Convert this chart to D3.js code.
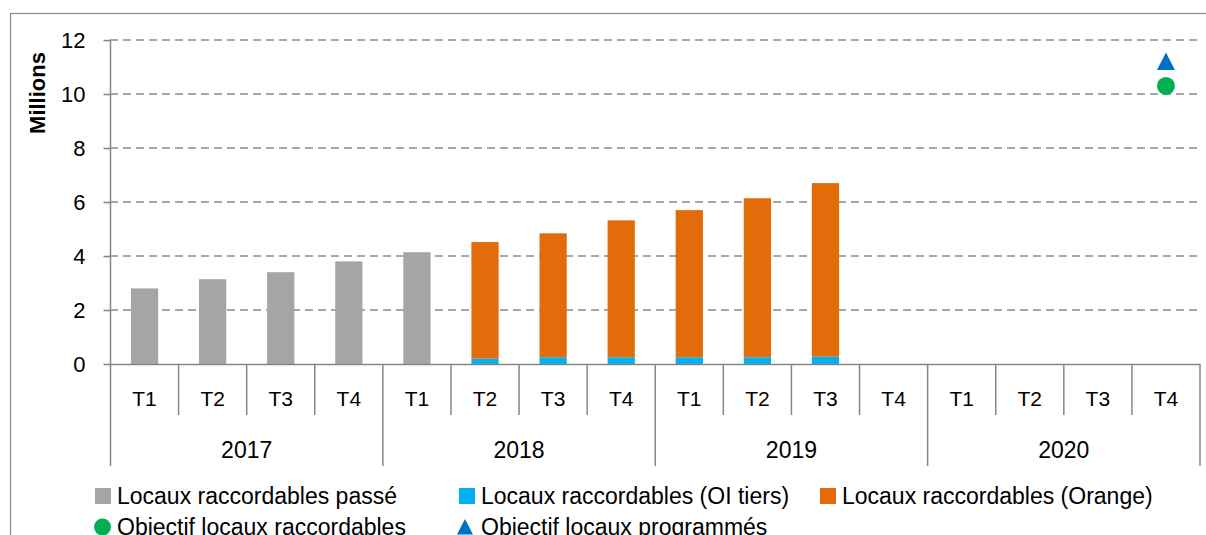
<!DOCTYPE html>
<html>
<head>
<meta charset="utf-8">
<script src="https://cdn.jsdelivr.net/npm/d3@7"></script>
<style>
  html, body { margin: 0; padding: 0; background: #fff; }
  svg { display: block; font-family: "Liberation Sans", Arial, sans-serif; }
</style>
</head>
<body>
<svg id="chart" width="1206" height="535"></svg>
<script>
// ---- Data ----
const years = ["2017", "2018", "2019", "2020"];
const quarters = ["T1", "T2", "T3", "T4"];
const passe   = [2.80, 3.14, 3.40, 3.80, 4.14, null, null, null, null, null, null, null, null, null, null, null];
const oiTiers = [null, null, null, null, null, 0.20, 0.25, 0.25, 0.25, 0.25, 0.27, null, null, null, null, null];
const orange  = [null, null, null, null, null, 4.32, 4.59, 5.07, 5.45, 5.89, 6.43, null, null, null, null, null];
const objectifRaccordables = [null, null, null, null, null, null, null, null, null, null, null, null, null, null, null, 10.3];
const objectifProgrammes   = [null, null, null, null, null, null, null, null, null, null, null, null, null, null, null, 11.2];
const yTicks = [0, 2, 4, 6, 8, 10, 12];
const legendLabels = [
  "Locaux raccordables passé",
  "Locaux raccordables (OI tiers)",
  "Locaux raccordables (Orange)",
  "Objectif locaux raccordables",
  "Objectif locaux programmés"
];

// ---- Styles ----
const C = {
  grey: "#A5A5A5", blue: "#00B0F0", orange: "#E36C0A",
  green: "#00B050", tri: "#0070C0", axis: "#868686", text: "#000"
};

const svg = d3.select("#chart");
const cats = [];
years.forEach(y => quarters.forEach(q => cats.push(y + "|" + q)));

const x = d3.scaleBand().domain(cats).range([110.5, 1200]).paddingInner(0).paddingOuter(0);
const y = d3.scaleLinear().domain([0, 12]).range([364, 40]);
const bw = x.bandwidth() * 0.4;

// outer border
svg.append("rect").attr("x", 10.5).attr("y", 13.5).attr("width", 1230).attr("height", 560)
  .attr("fill", "none").attr("stroke", "#8a8a8a").attr("stroke-width", 1.2);

// gridlines
svg.append("g").selectAll("line").data(yTicks.filter(d => d > 0)).join("line")
  .attr("x1", 110).attr("x2", 1200)
  .attr("y1", d => y(d)).attr("y2", d => y(d))
  .attr("stroke", "#8c8c8c").attr("stroke-width", 1.6).attr("stroke-dasharray", "8,5");

// y axis
const yAxis = d3.axisLeft(y).tickValues(yTicks).tickSize(7).tickPadding(18).tickFormat(d3.format("d"));
const gy = svg.append("g").attr("transform", "translate(110.5,0)").call(yAxis);
gy.select(".domain").attr("stroke", C.axis).attr("stroke-width", 1.5).attr("d", "M0,40V364");
gy.selectAll(".tick line").attr("stroke", C.axis).attr("stroke-width", 1.5);
gy.selectAll(".tick text").attr("font-size", 22).attr("fill", C.text)
  .attr("font-family", "'Liberation Sans', Arial, sans-serif");

// y title
svg.append("text").attr("transform", "translate(45,93) rotate(-90)")
  .attr("text-anchor", "middle").attr("font-size", 22).attr("font-weight", "bold")
  .attr("fill", C.text).text("Millions");

// bars
const gb = svg.append("g");
cats.forEach((c, i) => {
  const cx = x(c) + x.bandwidth() / 2;
  if (passe[i] != null) {
    gb.append("rect").attr("x", cx - bw / 2).attr("width", bw)
      .attr("y", y(passe[i])).attr("height", y(0) - y(passe[i])).attr("fill", C.grey);
  }
  let base = 0;
  if (oiTiers[i] != null) {
    gb.append("rect").attr("x", cx - bw / 2).attr("width", bw)
      .attr("y", y(oiTiers[i])).attr("height", y(0) - y(oiTiers[i])).attr("fill", C.blue);
    base = oiTiers[i];
  }
  if (orange[i] != null) {
    gb.append("rect").attr("x", cx - bw / 2).attr("width", bw)
      .attr("y", y(base + orange[i])).attr("height", y(base) - y(base + orange[i])).attr("fill", C.orange);
  }
});

// x axis line
svg.append("line").attr("x1", 110).attr("x2", 1200).attr("y1", 364.5).attr("y2", 364.5)
  .attr("stroke", C.axis).attr("stroke-width", 1.5);

// quarter separators and labels
const gx = svg.append("g");
cats.forEach((c, i) => {
  const left = x(c);
  const isYearStart = i % 4 === 0;
  gx.append("line").attr("x1", left).attr("x2", left).attr("y1", 364)
    .attr("y2", isYearStart ? 466 : 415).attr("stroke", C.axis).attr("stroke-width", 1.5);
  gx.append("text").attr("x", left + x.bandwidth() / 2).attr("y", 406)
    .attr("text-anchor", "middle").attr("font-size", 21).attr("fill", C.text)
    .text(c.split("|")[1]);
});
gx.append("line").attr("x1", 1200).attr("x2", 1200).attr("y1", 364).attr("y2", 466)
  .attr("stroke", C.axis).attr("stroke-width", 1.5);
years.forEach(yr => {
  const a = x(yr + "|T1"), b = x(yr + "|T4") + x.bandwidth();
  gx.append("text").attr("x", (a + b) / 2).attr("y", 458)
    .attr("text-anchor", "middle").attr("font-size", 23).attr("fill", C.text).text(yr);
});

// markers
const gm = svg.append("g");
cats.forEach((c, i) => {
  const cx = x(c) + x.bandwidth() / 2;
  if (objectifRaccordables[i] != null) {
    gm.append("circle").attr("cx", cx).attr("cy", y(objectifRaccordables[i])).attr("r", 9).attr("fill", C.green);
  }
  if (objectifProgrammes[i] != null) {
    gm.append("path").attr("transform", `translate(${cx},${y(objectifProgrammes[i])})`)
      .attr("d", "M0,-9L9,8.5L-9,8.5Z").attr("fill", C.tri);
  }
});

// legend
const lg = svg.append("g").attr("font-size", 23).attr("fill", C.text);
const legendItems = [
  { label: legendLabels[0], shape: "rect", color: C.grey,   sx: 95,  tx: 117, cy: 496 },
  { label: legendLabels[1], shape: "rect", color: C.blue,   sx: 459, tx: 481, cy: 496 },
  { label: legendLabels[2], shape: "rect", color: C.orange, sx: 820, tx: 842, cy: 496 },
  { label: legendLabels[3], shape: "circle", color: C.green, sx: 94, tx: 117, cy: 527 },
  { label: legendLabels[4], shape: "tri", color: C.tri,     sx: 457, tx: 481, cy: 527 }
];
legendItems.forEach(it => {
  if (it.shape === "rect") {
    lg.append("rect").attr("x", it.sx).attr("y", it.cy - 8).attr("width", 16).attr("height", 16).attr("fill", it.color);
  } else if (it.shape === "circle") {
    lg.append("circle").attr("cx", it.sx + 8.5).attr("cy", it.cy).attr("r", 8.5).attr("fill", it.color);
  } else {
    lg.append("path").attr("transform", `translate(${it.sx + 8},${it.cy})`)
      .attr("d", "M0,-8L8,7.5L-8,7.5Z").attr("fill", it.color);
  }
  lg.append("text").attr("x", it.tx).attr("y", it.cy + 8).text(it.label);
});
</script>
</body>
</html>
